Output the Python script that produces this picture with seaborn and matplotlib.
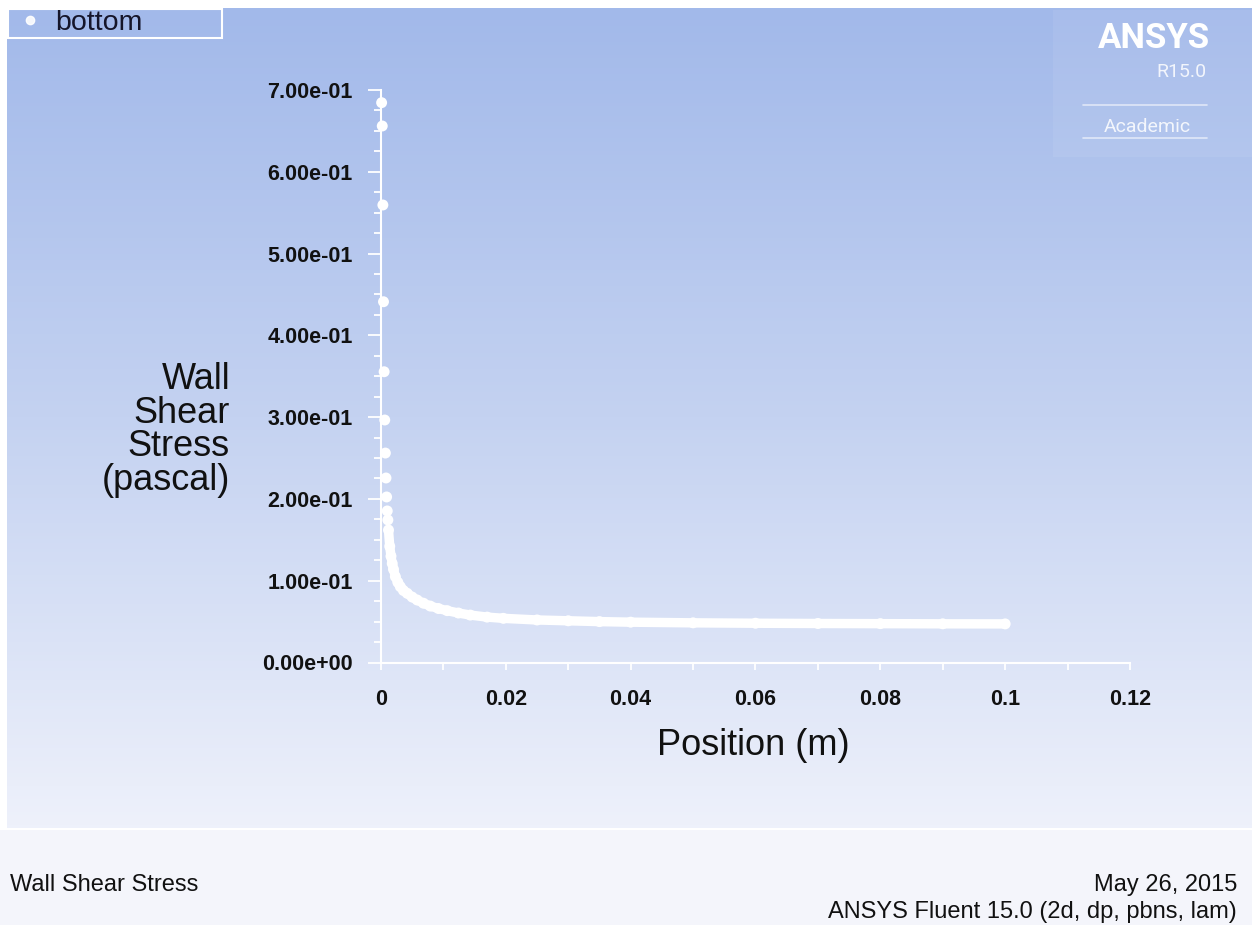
import numpy as np
import matplotlib
matplotlib.use('Agg')
import matplotlib.pyplot as plt
import seaborn as sns
from matplotlib.patches import Rectangle
from matplotlib.lines import Line2D
from matplotlib.colors import LinearSegmentedColormap
from matplotlib.ticker import MultipleLocator

# wall shear stress along the bottom wall
position_m = [0.0001, 0.0002, 0.0003, 0.0004, 0.0005, 0.0006, 0.0007, 0.0008, 0.0009, 0.0010, 0.0011,
              0.0012, 0.0014, 0.0016, 0.0018, 0.0020, 0.0023, 0.0027, 0.0031, 0.0036, 0.0042,
              0.0050, 0.0058, 0.0068, 0.0079, 0.0092, 0.0106, 0.0124, 0.0143, 0.0170, 0.0196,
              0.0250, 0.0300, 0.0350, 0.0400, 0.0500, 0.0600, 0.0700, 0.0800, 0.0900, 0.1000]
shear_pa = [0.6845, 0.6560, 0.5594, 0.4411, 0.3555, 0.2965, 0.2561, 0.2256, 0.2024, 0.1853, 0.1743,
            0.1620, 0.1420, 0.1300, 0.1210, 0.1140, 0.1050, 0.0980, 0.0927, 0.0880, 0.0846,
            0.0800, 0.0764, 0.0725, 0.0690, 0.0660, 0.0634, 0.0605, 0.0580, 0.0555, 0.0540,
            0.0520, 0.0510, 0.0500, 0.0493, 0.0485, 0.0480, 0.0477, 0.0475, 0.0473, 0.0472]
n_sparse = 11  # first nodes near the leading edge show up as separate dots

x_ticks = [0, 0.02, 0.04, 0.06, 0.08, 0.1, 0.12]
x_tick_labels = ["0", "0.02", "0.04", "0.06", "0.08", "0.1", "0.12"]
y_ticks = [0, 0.1, 0.2, 0.3, 0.4, 0.5, 0.6, 0.7]
y_tick_labels = ["0.00e+00", "1.00e-01", "2.00e-01", "3.00e-01",
                 "4.00e-01", "5.00e-01", "6.00e-01", "7.00e-01"]

sns.set_style("ticks")
plt.rcParams['font.family'] = ['Liberation Sans', 'DejaVu Sans']

W, H = 1252, 925
fig = plt.figure(figsize=(12.52, 9.25), dpi=100)
fig.patch.set_facecolor('white')


def fx(px):
    return px / W


def fy(py):
    return 1 - py / H


# blue gradient background
bg = fig.add_axes([fx(7), fy(828), 1 - fx(7), (828 - 8) / H])
grad = np.linspace(0, 1, 256)[:, None]
cmap = LinearSegmentedColormap.from_list('fluent_bg', ['#a2b9ea', '#c4d2f1', '#eef1fb'])
bg.imshow(grad, aspect='auto', cmap=cmap)
bg.axis('off')

# footer panel
fig.add_artist(Rectangle((0, 0), 1, fy(830), transform=fig.transFigure,
                         facecolor='#f4f5fb', edgecolor='none'))
fig.add_artist(Line2D([0, 1], [fy(829), fy(829)], transform=fig.transFigure,
                      color='white', lw=1.5))

# logo box
fig.add_artist(Rectangle((fx(1053), fy(157)), 1 - fx(1053), (157 - 10) / H,
                         transform=fig.transFigure, facecolor='white', alpha=0.07,
                         edgecolor='none'))
fig.text(fx(1210), fy(48), "ANSYS", ha='right', va='baseline', fontsize=25,
         fontweight='bold', color='white', family='Roboto')
fig.text(fx(1207), fy(77), "R15.0", ha='right', va='baseline', fontsize=14,
         color='white', alpha=0.85, family='Roboto')
fig.add_artist(Line2D([fx(1083), fx(1207)], [fy(105), fy(105)], transform=fig.transFigure,
                      color='white', lw=1.2, alpha=0.6))
fig.text(fx(1147), fy(132), "Academic", ha='center', va='baseline', fontsize=14,
         color='white', alpha=0.85, family='Roboto')
fig.add_artist(Line2D([fx(1083), fx(1207)], [fy(138), fy(138)], transform=fig.transFigure,
                      color='white', lw=1.2, alpha=0.6))

# main plot
ax = fig.add_axes([fx(381), fy(662.5), (1130 - 381) / W, (662.5 - 90) / H])
ax.patch.set_alpha(0)

sns.lineplot(x=position_m[n_sparse:], y=shear_pa[n_sparse:], ax=ax, color='white',
             lw=6.8, solid_capstyle='round', solid_joinstyle='round',
             estimator=None, sort=False, legend=False)
sns.scatterplot(x=position_m, y=shear_pa, ax=ax, color='white', s=62,
                edgecolor='none', legend=False, clip_on=False, zorder=5)

ax.set_xlim(0, 0.12)
ax.set_ylim(0, 0.7)
ax.set_xticks(x_ticks)
ax.set_xticklabels(x_tick_labels, fontsize=15.5, fontweight='bold', color='#111111')
ax.set_yticks(y_ticks)
ax.set_yticklabels(y_tick_labels, fontsize=15.5, fontweight='bold', color='#111111')
ax.xaxis.set_minor_locator(MultipleLocator(0.01))
ax.yaxis.set_minor_locator(MultipleLocator(0.025))

for side in ['top', 'right']:
    ax.spines[side].set_visible(False)
for side in ['left', 'bottom']:
    ax.spines[side].set_color('white')
    ax.spines[side].set_linewidth(1.5)

ax.tick_params(axis='y', which='major', length=9.5, width=1.3, color='white', pad=11)
ax.tick_params(axis='y', which='minor', length=5, width=1.3, color='white')
ax.tick_params(axis='x', which='both', length=5, width=1.3, color='white', pad=14)

ax.set_xlabel("Position (m)", fontsize=26, color='#111111')
ax.xaxis.set_label_coords(0.497, -0.114)
ax.set_ylabel("Wall\nShear\nStress\n(pascal)", fontsize=26, color='#111111',
              rotation=0, ha='right', va='center', multialignment='right', linespacing=0.95)
ax.yaxis.set_label_coords(-0.2016, 0.406)

# legend
handles = [Line2D([], [], marker='o', ls='', color='white', markersize=6, alpha=0.9)]
leg = fig.legend(handles, ['bottom'], loc='upper left',
                 bbox_to_anchor=(fx(8), fy(38), fx(222) - fx(8), fy(9) - fy(38)),
                 mode='expand', fontsize=20.5, borderpad=0.05, handlelength=1.45,
                 handletextpad=0.15, borderaxespad=0, fancybox=False, framealpha=1)
leg.get_frame().set_facecolor('none')
leg.get_frame().set_edgecolor('white')
leg.get_frame().set_linewidth(1.5)
for t in leg.get_texts():
    t.set_color('#15152a')

# footer text
fig.text(fx(10), fy(885), "Wall Shear Stress", ha='left', va='center', fontsize=17, color='#111111')
fig.text(fx(1237), fy(885), "May 26, 2015", ha='right', va='center', fontsize=17, color='#111111')
fig.text(fx(1237), fy(912), "ANSYS Fluent 15.0 (2d, dp, pbns, lam)", ha='right', va='center',
         fontsize=17, color='#111111')

fig.savefig('out.png', dpi=100)
